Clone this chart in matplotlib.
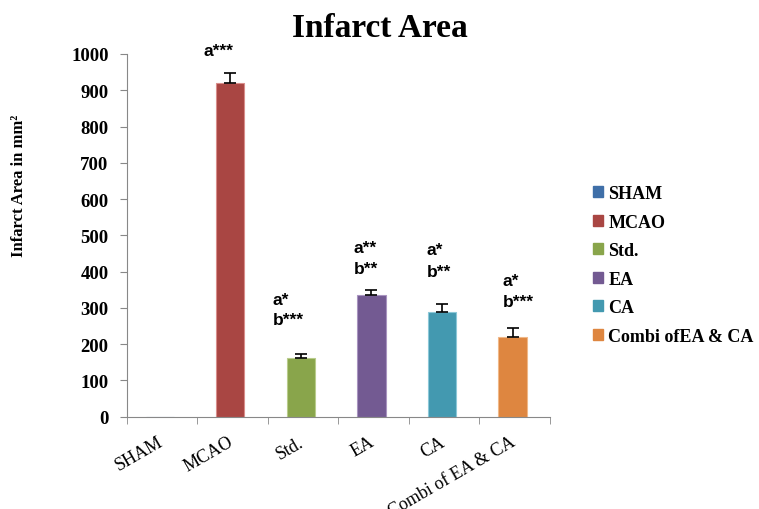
import matplotlib
matplotlib.use("Agg")
import matplotlib.pyplot as plt
import matplotlib.transforms as mtransforms
import numpy as np

groups = ["SHAM", "MCAO", "Std.", "EA", "CA", "Combi of EA & CA"]
legend_names = ["SHAM", "MCAO", "Std.", "EA", "CA", "Combi ofEA & CA"]
area = [0, 920, 161, 335, 289, 219]
sem = [0, 27, 11, 14, 23, 25]
colors = ["#3F6FA8", "#A94643", "#89A54B", "#735A92", "#4399B0", "#DE8640"]
edges = ["#6F93C4", "#D98E8B", "#B9CC8C", "#A994C0", "#8CC8D8", "#F0B888"]

# significance marks, one entry per text line
sig_text = ["a***", "a*", "b***", "a**", "b**", "a*", "b**", "a*", "b***"]
sig_x = [0.595, 1.57, 1.57, 2.72, 2.72, 3.75, 3.75, 4.83, 4.83]
sig_y = [1009, 324, 267, 467, 409, 460, 400, 375, 317]

serif = "Liberation Serif"
sans = "Liberation Sans"

fig = plt.figure(figsize=(7.59, 5.10), dpi=100)
ax = fig.add_axes([0.1669, 0.181, 0.5577, 0.7112])

x = np.arange(len(groups))
bars = ax.bar(x - 0.03, area, width=0.4, color=colors, edgecolor=edges,
              linewidth=0.8, zorder=2)
ax.errorbar(x[1:] - 0.03, area[1:], yerr=[np.zeros(5), sem[1:]], fmt="none",
            ecolor="black", elinewidth=1.2, capsize=4, capthick=1.2, zorder=3)

for t, tx, ty in zip(sig_text, sig_x, sig_y):
    ax.text(tx, ty, t, ha="left", va="center", fontsize=12.5,
            fontweight="bold", family=sans, clip_on=False)

ax.set_xlim(-0.5, 5.5)
ax.set_ylim(0, 1000)
ax.set_yticks(np.arange(0, 1001, 100))
ax.set_yticklabels([str(v) for v in range(0, 1001, 100)], fontsize=13.5,
                   fontweight="bold", family=serif)
ax.set_xticks(x)
ax.set_xticklabels(groups, rotation=30, ha="right", rotation_mode="anchor",
                   fontsize=13, family=serif)
ax.set_xticks(np.arange(-0.5, 6, 1), minor=True)
ax.tick_params(axis="x", which="major", length=0, pad=6)
ax.tick_params(axis="x", which="minor", length=5, color="#888888")
ax.tick_params(axis="y", length=5, color="#888888", pad=8)

# nudge the slanted category names down and left
shift = mtransforms.ScaledTranslation(-0.05, -0.08, fig.dpi_scale_trans)
for lbl in ax.get_xticklabels():
    lbl.set_transform(lbl.get_transform() + shift)

for s in ["top", "right"]:
    ax.spines[s].set_visible(False)
for s in ["left", "bottom"]:
    ax.spines[s].set_color("#888888")

ax.set_ylabel("Infarct Area in mm²", fontsize=12, fontweight="bold", family=serif)
ax.yaxis.set_label_coords(-0.2355, 0.639)

fig.text(0.5, 0.945, "Infarct Area", ha="center", va="center", fontsize=24,
         fontweight="bold", family=serif)

handles = [plt.Rectangle((0, 0), 1, 1, color=c) for c in colors]
fig.legend(handles, legend_names, loc="upper left", bbox_to_anchor=(0.760, 0.667),
           frameon=False, prop={"family": serif, "weight": "bold", "size": 13},
           handlelength=0.55, handleheight=0.55, handletextpad=0.3,
           labelspacing=0.64)

fig.savefig("out.png", dpi=100)
